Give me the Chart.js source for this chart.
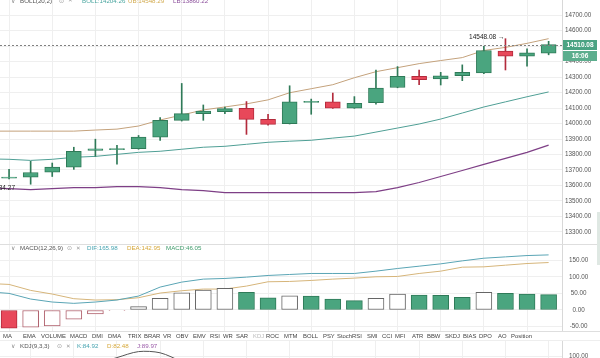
<!DOCTYPE html>
<html><head><meta charset="utf-8">
<script src="https://cdn.jsdelivr.net/npm/chart.js@4.4.1/dist/chart.umd.min.js"></script>
<style>
html,body{margin:0;padding:0;background:#fff;width:600px;height:358px;overflow:hidden;font-family:'Liberation Sans',Arial,'DejaVu Sans',sans-serif;}
canvas{position:absolute;left:0;}
.t{position:absolute;white-space:nowrap;}
.ln{position:absolute;left:0;width:600px;height:1px;background:#dedede;}
</style></head><body>
<canvas id="main" width="600" height="244" style="top:0"></canvas>
<canvas id="macd" width="600" height="87" style="top:244px"></canvas>
<canvas id="kdj" width="600" height="60" style="top:340px"></canvas>
<div class="ln" style="top:244px"></div>
<div class="ln" style="top:331px"></div>
<div class="ln" style="top:340px;background:#eee"></div>
<div style="position:absolute;left:597px;top:212px;width:3px;height:53px;background:#dfe8e3"></div>
<div id="ov"></div>
<script>
// ---------- data ----------
const openP  = [13648,13654,13686,13719,13826,13831,13838,13912,14021,14064,14077,14099,14027,13999,14137,14140,14099,14135,14233,14305,14288,14309,14327,14468,14435,14454];
const highP  = [13704,13756,13745,13847,13899,13860,13923,14038,14259,14120,14107,14142,14060,14244,14158,14197,14174,14346,14368,14346,14331,14379,14498,14548.08,14483,14531];
const lowP   = [13643,13608,13658,13704,13788,13738,13834,13891,14016,14021,14064,13930,13990,13997,14060,14098,14098,14125,14231,14251,14249,14277,14322,14346,14370,14444];
const closeP = [13654,13684,13719,13821,13837,13838,13912,14021,14064,14081,14096,14027,13995,14140,14143,14099,14131,14229,14305,14283,14309,14331,14472,14435,14457,14510.08];
// Bollinger bands: first value is the bar just left of the visible window
const bollUpper = [13951,13951,13951,13951,13951,13958,13964,13984,14023,14055,14088,14107,14127,14153,14199,14225,14251,14296,14335,14361,14387,14407,14426,14472,14492,14518,14548.29];
const bollMid   = [13772,13769,13762,13769,13782,13788,13801,13814,13821,13834,13847,13853,13866,13879,13886,13892,13906,13919,13945,13971,13997,14029,14068,14107,14140,14173,14204.26];
const bollLower = [13582,13580,13573,13580,13586,13586,13593,13593,13586,13573,13567,13554,13554,13554,13554,13554,13554,13554,13560,13586,13619,13658,13697,13736,13775,13814,13860.22];
const offLeftLow = 13584.27;
// MACD
const macdHist = [-55,-52,-48,-28,-12,-2,10,35,52,60,65,53,37,43,42,33,28,35,48,45,44,38,53,50,48,46.05];
const difLine  = [55,50,33,24,20,24,30,42,69,84,93,95,99,104,107,110,110,110,117,125,132,139,148,156,160,164,165.98];
const deaLine  = [80,77,59,48,34,30,31,37,51,58,63,63,72,85,86,89,93,96,100,101,110,117,129,130,135,140,142.95];
// KDJ (only the visible arc)
const kdjJ = [null,null,null,null,80,96,111,108,86,null,null,null,null,null,null,null,null,null,null,null,null,null,null,null,null,null];
const priceTicks = [13300,13400,13500,13600,13700,13800,13900,14000,14100,14200,14300,14400,14500,14600,14700];
const macdTicks = [-50,0,50,100,150];
const kdjTicks = [0,50,100];
const toolButtons = ['MA','EMA','VOLUME','MACD','DMI','DMA','TRIX','BRAR','VR','OBV','EMV','RSI','WR','SAR','KDJ','ROC','MTM','BOLL','PSY','StochRSI','SMI','CCI','MFI','ATR','BBW','SKDJ','BIAS','DPO','AO','Position'];
const lastTime = '16:06';

// ---------- styling ----------
const GREEN='#4aa57f', GREEN_B='#2f7a58', RED='#e8485a', RED_B='#b32b3c';
const C_UP='#c4a27c', C_MID='#4f9f95', C_LOW='#7e3f86';
const C_DIF='#5aa5b5', C_DEA='#d6b57a';
const GRID='#efefef';
const FONT='"Liberation Sans", Arial, sans-serif';
Chart.defaults.font.family = FONT;

const N = closeP.length;
const XMIN = -0.42, XMAX = 25.62;
const gridTicks = []; for (let i=1;i<N;i+=2) gridTicks.push({value:i});

function xScale(){
  return {type:'linear', min:XMIN, max:XMAX, offset:false,
    grid:{color:GRID, drawTicks:false}, border:{display:false}, ticks:{display:false},
    afterBuildTicks:s=>{s.ticks = gridTicks.map(t=>({value:t.value}));},
    afterFit:s=>{s.height=0; s.paddingLeft=0; s.paddingRight=0; s.paddingTop=0; s.paddingBottom=0;}};
}
function yScale(min,max,ticks,pad,fmt){
  return {position:'right', min, max,
    grid:{color:GRID, drawTicks:false}, border:{display:true,color:'#d8d8d8'},
    ticks:{color:'#555', font:{size:6.3}, padding:pad, crossAlign:'center', callback:v=>fmt(v)},
    afterBuildTicks:s=>{s.ticks = ticks.map(v=>({value:v}));},
    afterFit:s=>{s.width=38; s.paddingTop=0; s.paddingBottom=0;}};
}
const isUp = i => closeP[i] >= openP[i];

// ---------- main chart ----------
const mainOverlay = {
  id:'mainOverlay',
  afterDatasetsDraw(chart){
    const {ctx, chartArea:a, scales:{x,y}} = chart;
    const last = closeP[N-1];
    const py = Math.round(y.getPixelForValue(last))+0.5;
    ctx.save();
    ctx.strokeStyle='#808080'; ctx.lineWidth=1; ctx.setLineDash([2,2]);
    ctx.beginPath(); ctx.moveTo(a.left,py); ctx.lineTo(a.right,py); ctx.stroke();
    ctx.setLineDash([]);
    let mi=0; highP.forEach((v,i)=>{ if(v>highP[mi]) mi=i; });
    ctx.font='6.5px '+FONT; ctx.fillStyle='#222'; ctx.textBaseline='middle';
    ctx.textAlign='right';
    ctx.fillText(highP[mi].toFixed(2)+' \u2192', x.getPixelForValue(mi)-1, y.getPixelForValue(highP[mi])-1);
    ctx.fillText(offLeftLow.toFixed(2), 15, y.getPixelForValue(offLeftLow));
    ctx.restore();
  },
  afterDraw(chart){
    const {ctx, chartArea:a, scales:{y}} = chart;
    const py = y.getPixelForValue(closeP[N-1]);
    ctx.save();
    ctx.fillStyle='#4ba383'; ctx.fillRect(a.right+1, Math.round(py)-5, 34, 10);
    ctx.fillStyle='#5cae8e'; ctx.fillRect(a.right+1, Math.round(py)+6, 34, 10);
    ctx.fillStyle='#fff'; ctx.font='bold 6.5px '+FONT; ctx.textAlign='center'; ctx.textBaseline='middle';
    ctx.fillText(closeP[N-1].toFixed(2), a.right+18, Math.round(py)+0.5);
    ctx.fillText(lastTime, a.right+18, Math.round(py)+11.5);
    ctx.restore();
  }
};
const band = arr => arr.map((v,k)=>({x:k-1,y:v}));
new Chart(document.getElementById('main'), {
  type:'bar',
  data:{datasets:[
    {label:'body', data:closeP.map((c,i)=>({x:i,y:[openP[i],c]})), barThickness:15, grouped:false,
      backgroundColor:c=>isUp(c.dataIndex)?GREEN:RED, borderColor:c=>isUp(c.dataIndex)?GREEN_B:RED_B,
      borderWidth:1, borderSkipped:false},
    {label:'wick', data:highP.map((h,i)=>({x:i,y:[lowP[i],h]})), barThickness:1, grouped:false,
      backgroundColor:c=>isUp(c.dataIndex)?GREEN_B:RED_B, borderWidth:0},
    {type:'line', data:band(bollUpper), borderColor:C_UP, borderWidth:1, pointRadius:0, tension:0},
    {type:'line', data:band(bollMid), borderColor:C_MID, borderWidth:1, pointRadius:0, tension:0},
    {type:'line', data:band(bollLower), borderColor:C_LOW, borderWidth:1.2, pointRadius:0, tension:0}
  ]},
  options:{animation:false, responsive:false, layout:{padding:0},
    plugins:{legend:{display:false}, tooltip:{enabled:false}},
    scales:{x:xScale(), y:yScale(13222,14798,priceTicks,3,v=>v.toFixed(2))}},
  plugins:[mainOverlay]
});

// ---------- MACD chart ----------
const histRising = i => macdHist[i] > (i>0 ? macdHist[i-1] : Infinity);
new Chart(document.getElementById('macd'), {
  type:'bar',
  data:{datasets:[
    {label:'hist', data:macdHist.map((v,i)=>({x:i,y:v})), barThickness:16, grouped:false, borderWidth:1, borderSkipped:false,
      backgroundColor:c=>histRising(c.dataIndex)?'#fff':(macdHist[c.dataIndex]<0?RED:GREEN),
      borderColor:c=>{const i=c.dataIndex, neg=macdHist[i]<0; if(histRising(i)) return neg?'#b0606c':'#666'; return neg?RED_B:GREEN_B;}},
    {type:'line', data:band(difLine), borderColor:C_DIF, borderWidth:1, pointRadius:0, tension:0},
    {type:'line', data:band(deaLine), borderColor:C_DEA, borderWidth:1, pointRadius:0, tension:0}
  ]},
  options:{animation:false, responsive:false, layout:{padding:0},
    plugins:{legend:{display:false}, tooltip:{enabled:false}},
    scales:{x:xScale(), y:yScale(-63.3,198.8,macdTicks,7,v=>v.toFixed(2))}}
});

// ---------- KDJ chart (only top edge visible) ----------
new Chart(document.getElementById('kdj'), {
  type:'line',
  data:{datasets:[{data:kdjJ.map((v,i)=>({x:i,y:v})), borderColor:'#555', borderWidth:1, pointRadius:0, tension:0.3}]},
  options:{animation:false, responsive:false, layout:{padding:0},
    plugins:{legend:{display:false}, tooltip:{enabled:false}},
    scales:{x:xScale(), y:yScale(-10,140,kdjTicks,7,v=>v.toFixed(2))}}
});

// ---------- text overlays ----------
const ov = document.getElementById('ov');
function txt(s, left, cy, color, size){
  const d=document.createElement('div'); d.className='t'; d.textContent=s;
  const lh=Math.round(size*1.3);
  d.style.cssText=`left:${left}px;top:${cy-lh/2}px;line-height:${lh}px;font-size:${size}px;color:${color};`;
  ov.appendChild(d);
}
function header(cy, name, iconsX, parts){
  txt('\u2228', 11, cy, '#888', 6);
  txt(name, 20, cy, '#555', 6.2);
  txt('\u2299', iconsX, cy, '#999', 6);
  txt('\u2715', iconsX+9, cy, '#999', 5.5);
  parts.forEach(p=>txt(p[0], p[1], cy, p[2], 6.2));
}
header(0.5, 'BOLL(20,2)', 59, [
  ['BOLL:'+bollMid[bollMid.length-1].toFixed(2), 82, '#4ba6a0'],
  ['UB:'+bollUpper[bollUpper.length-1].toFixed(2), 128, '#d2aa4e'],
  ['LB:'+bollLower[bollLower.length-1].toFixed(2), 173, '#8a4d9a']]);
header(248, 'MACD(12,26,9)', 67, [
  ['DIF:'+difLine[difLine.length-1].toFixed(2), 87, '#45a3b0'],
  ['DEA:'+deaLine[deaLine.length-1].toFixed(2), 127, '#d6a83a'],
  ['MACD:'+macdHist[macdHist.length-1].toFixed(2), 166, '#3f9a6a']]);
header(346, 'KDJ(9,3,3)', 57, [
  ['K:84.92', 77, '#45a3b0'],
  ['D:82.48', 107, '#d6a83a'],
  ['J:89.97', 137, '#9a5aa8']]);
const btnLeft = [3,23,41,70,92,108,128,144,163,176,193,210,223,236,253,266,284,303,323,337,367,382,395,412,427,445,463,479,498,511];
toolButtons.forEach((b,i)=>txt(b, btnLeft[i], 335.5, b==='KDJ'?'#bbb':'#444', 5.9));
</script>
</body></html>
